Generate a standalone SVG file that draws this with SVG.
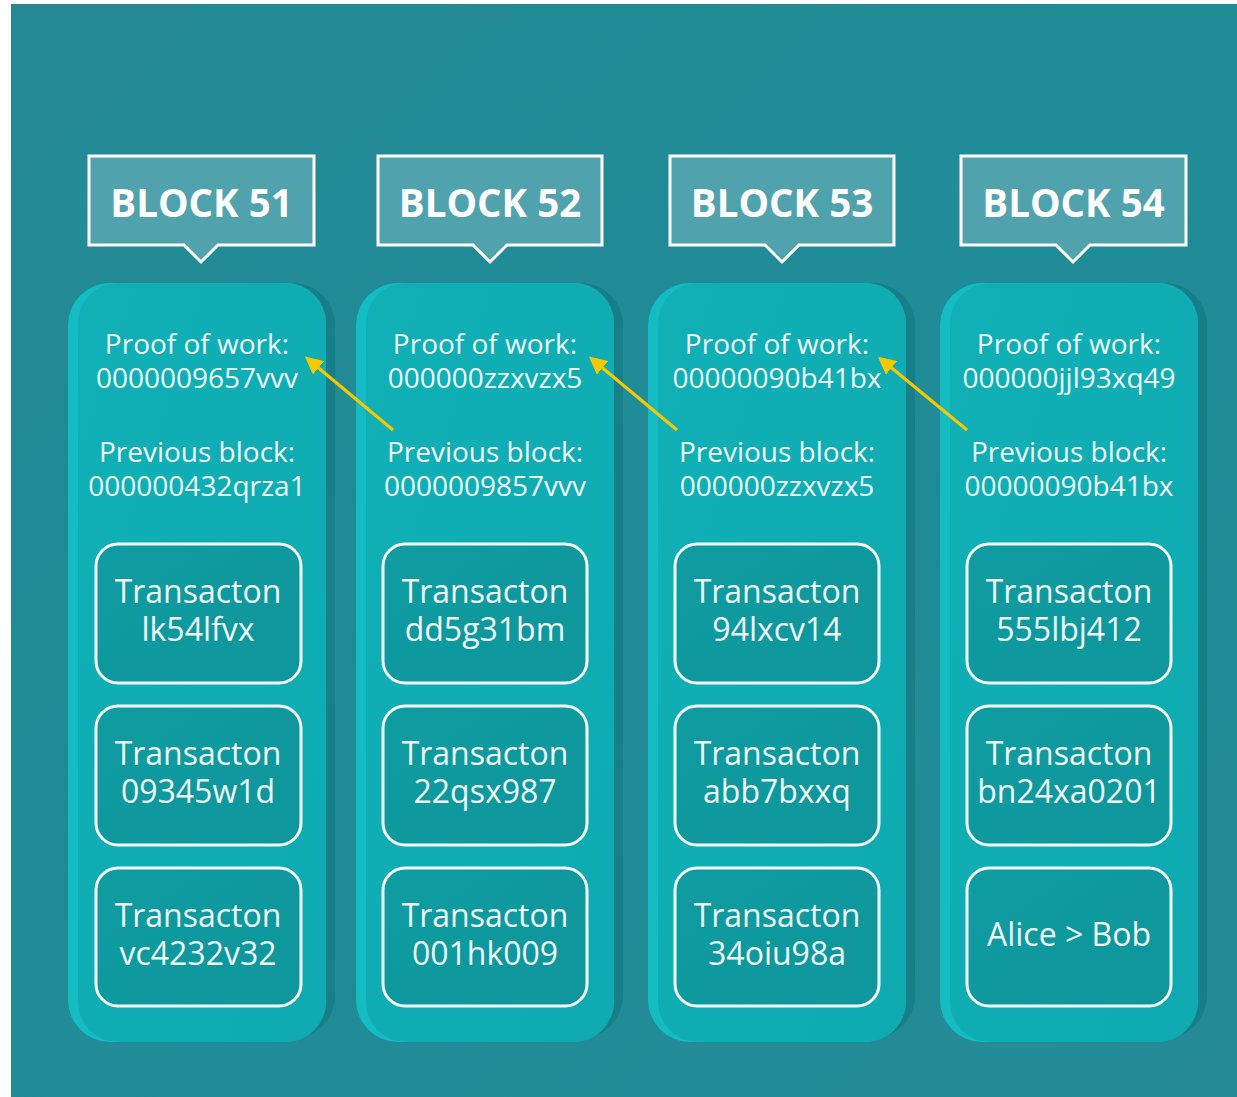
<svg xmlns="http://www.w3.org/2000/svg" width="1237" height="1097" viewBox="0 0 1237 1097">
  <defs>
    <linearGradient id="bgGrad" x1="0" y1="0" x2="1" y2="1">
      <stop offset="0" stop-color="#258995"/>
      <stop offset="0.5" stop-color="#1f8c97"/>
      <stop offset="1" stop-color="#258a96"/>
    </linearGradient>
    <linearGradient id="colGrad" x1="0" y1="0" x2="1" y2="1">
      <stop offset="0" stop-color="#10b0b6"/>
      <stop offset="1" stop-color="#0faab1"/>
    </linearGradient>
    <linearGradient id="boxGrad" x1="0" y1="0" x2="1" y2="1">
      <stop offset="0" stop-color="#0f9ca1"/>
      <stop offset="1" stop-color="#0e969c"/>
    </linearGradient>
    <marker id="arrowHead" viewBox="0 0 10 10" refX="7" refY="5" markerWidth="5.5" markerHeight="5.5" orient="auto-start-reverse" markerUnits="strokeWidth">
      <path d="M0,0 L10,5 L0,10 z" fill="#f5c800"/>
    </marker>
  </defs>
  <style>
    .hdr { fill: #50a3ad; stroke: #ffffff; stroke-width: 3; }
    .hdr-text { font-family: "Open Sans", "DejaVu Sans", sans-serif; font-weight: 700; font-size: 38.5px; fill: #ffffff; text-anchor: middle; }
    .col-light { fill: #12bcc2; }
    .col-shadow { fill: #167f88; }
    .col-body { fill: url(#colGrad); }
    .info { font-family: "Open Sans", "DejaVu Sans", sans-serif; font-size: 28px; fill: #eef9f9; text-anchor: middle; }
    .tx { fill: url(#boxGrad); stroke: #f4fbfb; stroke-width: 3; }
    .tx-text { font-family: "Open Sans", "DejaVu Sans", sans-serif; font-size: 32px; fill: #eef9f9; text-anchor: middle; }
    .link { stroke: #f5c800; stroke-width: 3.2; fill: none; }
  </style>

  <!-- background panel -->
  <rect x="0" y="0" width="1237" height="1097" fill="#ffffff"/>
  <rect x="11" y="4" width="1226" height="1093" fill="url(#bgGrad)"/>

  <!-- Block 51 -->
  <g id="block51">
    <path class="hdr" d="M89,156 H314 V245 H218 L201,262 L184,245 H89 Z"/>
    <text class="hdr-text" x="201.5" y="217">BLOCK 51</text>
    <rect class="col-shadow" x="78" y="283" width="257" height="755" rx="42"/>
    <rect class="col-light" x="68" y="283" width="258" height="759" rx="42"/>
    <rect class="col-body" x="78" y="283" width="248" height="759" rx="40"/>
    <text class="info" x="197" y="354">Proof of work:</text>
    <text class="info" x="197" y="388">0000009657vvv</text>
    <text class="info" x="197" y="462">Previous block:</text>
    <text class="info" x="197" y="496">000000432qrza1</text>
    <rect class="tx" x="96" y="544" width="205" height="139" rx="22"/>
    <text class="tx-text" x="198" y="603">Transacton</text>
    <text class="tx-text" x="198" y="641">lk54lfvx</text>
    <rect class="tx" x="96" y="706" width="205" height="139" rx="22"/>
    <text class="tx-text" x="198" y="765">Transacton</text>
    <text class="tx-text" x="198" y="803">09345w1d</text>
    <rect class="tx" x="96" y="868" width="205" height="138" rx="22"/>
    <text class="tx-text" x="198" y="927">Transacton</text>
    <text class="tx-text" x="198" y="965">vc4232v32</text>
  </g>

  <!-- Block 52 -->
  <g id="block52">
    <path class="hdr" d="M378,156 H602 V245 H507 L490,262 L473,245 H378 Z"/>
    <text class="hdr-text" x="490" y="217">BLOCK 52</text>
    <rect class="col-shadow" x="366" y="283" width="257" height="755" rx="42"/>
    <rect class="col-light" x="356" y="283" width="258" height="759" rx="42"/>
    <rect class="col-body" x="366" y="283" width="248" height="759" rx="40"/>
    <text class="info" x="485" y="354">Proof of work:</text>
    <text class="info" x="485" y="388">000000zzxvzx5</text>
    <text class="info" x="485" y="462">Previous block:</text>
    <text class="info" x="485" y="496">0000009857vvv</text>
    <rect class="tx" x="383" y="544" width="204" height="139" rx="22"/>
    <text class="tx-text" x="485" y="603">Transacton</text>
    <text class="tx-text" x="485" y="641">dd5g31bm</text>
    <rect class="tx" x="383" y="706" width="204" height="139" rx="22"/>
    <text class="tx-text" x="485" y="765">Transacton</text>
    <text class="tx-text" x="485" y="803">22qsx987</text>
    <rect class="tx" x="383" y="868" width="204" height="138" rx="22"/>
    <text class="tx-text" x="485" y="927">Transacton</text>
    <text class="tx-text" x="485" y="965">001hk009</text>
  </g>

  <!-- Block 53 -->
  <g id="block53">
    <path class="hdr" d="M670,156 H894 V245 H799 L782,262 L765,245 H670 Z"/>
    <text class="hdr-text" x="782" y="217">BLOCK 53</text>
    <rect class="col-shadow" x="658" y="283" width="257" height="755" rx="42"/>
    <rect class="col-light" x="648" y="283" width="258" height="759" rx="42"/>
    <rect class="col-body" x="658" y="283" width="248" height="759" rx="40"/>
    <text class="info" x="777" y="354">Proof of work:</text>
    <text class="info" x="777" y="388">00000090b41bx</text>
    <text class="info" x="777" y="462">Previous block:</text>
    <text class="info" x="777" y="496">000000zzxvzx5</text>
    <rect class="tx" x="675" y="544" width="204" height="139" rx="22"/>
    <text class="tx-text" x="777" y="603">Transacton</text>
    <text class="tx-text" x="777" y="641">94lxcv14</text>
    <rect class="tx" x="675" y="706" width="204" height="139" rx="22"/>
    <text class="tx-text" x="777" y="765">Transacton</text>
    <text class="tx-text" x="777" y="803">abb7bxxq</text>
    <rect class="tx" x="675" y="868" width="204" height="138" rx="22"/>
    <text class="tx-text" x="777" y="927">Transacton</text>
    <text class="tx-text" x="777" y="965">34oiu98a</text>
  </g>

  <!-- Block 54 -->
  <g id="block54">
    <path class="hdr" d="M961,156 H1186 V245 H1090 L1073,262 L1056,245 H961 Z"/>
    <text class="hdr-text" x="1073.5" y="217">BLOCK 54</text>
    <rect class="col-shadow" x="950" y="283" width="257" height="755" rx="42"/>
    <rect class="col-light" x="940" y="283" width="258" height="759" rx="42"/>
    <rect class="col-body" x="950" y="283" width="248" height="759" rx="40"/>
    <text class="info" x="1069" y="354">Proof of work:</text>
    <text class="info" x="1069" y="388">000000jjl93xq49</text>
    <text class="info" x="1069" y="462">Previous block:</text>
    <text class="info" x="1069" y="496">00000090b41bx</text>
    <rect class="tx" x="967" y="544" width="204" height="139" rx="22"/>
    <text class="tx-text" x="1069" y="603">Transacton</text>
    <text class="tx-text" x="1069" y="641">555lbj412</text>
    <rect class="tx" x="967" y="706" width="204" height="139" rx="22"/>
    <text class="tx-text" x="1069" y="765">Transacton</text>
    <text class="tx-text" x="1069" y="803">bn24xa0201</text>
    <rect class="tx" x="967" y="868" width="204" height="138" rx="22"/>
    <text class="tx-text" x="1069" y="946">Alice &gt; Bob</text>
  </g>

  <!-- links: previous-block hash points back to the prior proof of work -->
  <g id="links">
    <line class="link" x1="393" y1="430" x2="309" y2="360" marker-end="url(#arrowHead)"/>
    <line class="link" x1="677" y1="430" x2="593" y2="360" marker-end="url(#arrowHead)"/>
    <line class="link" x1="967" y1="430" x2="882" y2="360" marker-end="url(#arrowHead)"/>
  </g>
</svg>
